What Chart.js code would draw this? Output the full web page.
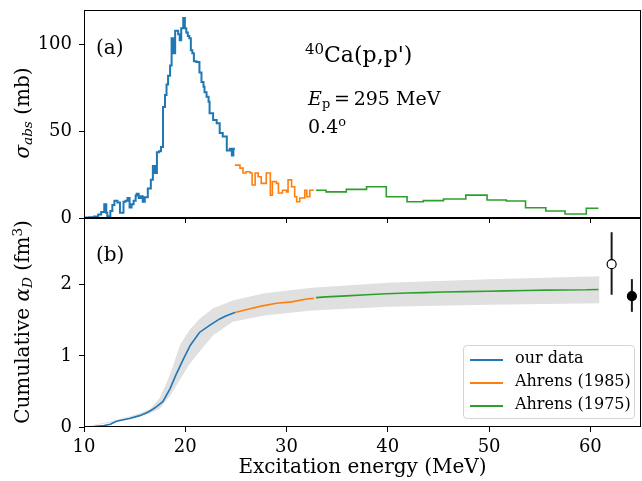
<!DOCTYPE html>
<html>
<head>
<meta charset="utf-8">
<script src="https://cdn.jsdelivr.net/npm/chart.js@4.4.0/dist/chart.umd.min.js"></script>
<style>
  body { margin: 0; background: #fff; font-family: "DejaVu Serif", serif; }
  #wrap { position: relative; width: 642px; height: 481px; overflow: hidden; }
  canvas { position: absolute; left: 0; }
  .txt { position: absolute; font-size: 18px; color: #000; white-space: nowrap; line-height: 1; }
  .txt sup { font-size: 0.68em; vertical-align: 0.55em; line-height: 0; }
  .txt sub { font-size: 0.68em; vertical-align: -0.25em; line-height: 0; }
  .rot { transform: translate(-50%, -50%) rotate(-90deg); font-size: 20px; }
  #legend { position: absolute; left: 463px; top: 345px; width: 170px; height: 72px;
            border: 1px solid #d4d4d4; border-radius: 4px; background: rgba(255,255,255,0.85);
            font-size: 16px; }
  .item { position: absolute; left: 0; height: 20px; white-space: nowrap; }
  .item i { position: absolute; left: 6px; top: 10px; width: 33px; height: 2px; }
  .item span { position: absolute; left: 51px; top: 1px; line-height: 1; }
</style>
</head>
<body>
<div id="wrap">
  <canvas id="top" width="642" height="232" style="top:0"></canvas>
  <canvas id="bottom" width="642" height="263" style="top:218px"></canvas>

  <div class="txt rot" style="left:22px;top:113px"><i>σ<sub>abs</sub></i> (mb)</div>
  <div class="txt rot" style="left:22px;top:322px">Cumulative <i>α<sub>D</sub></i> (fm<sup>3</sup>)</div>

  <div class="txt" style="left:96px;top:37px;font-size:20px">(a)</div>
  <div class="txt" style="left:96px;top:244px;font-size:20px">(b)</div>
  <div class="txt" style="left:305px;top:44px;font-size:22px"><sup>40</sup>Ca(p,p')</div>
  <div class="txt" style="left:308px;top:89px;font-size:19px"><i>E</i><sub>p</sub>&#8201;=&#8201;295 MeV</div>
  <div class="txt" style="left:308px;top:117px;font-size:19px">0.4<sup>o</sup></div>

  <div id="legend"></div>
</div>

<script>
// (a) absorption cross section, step histograms: bin edges + bin values
const ourEdges = [10.0,10.5,11.0,11.4,11.7,12.0,12.2,12.3,12.6,12.8,13.0,13.3,13.55,13.9,14.1,14.3,14.5,14.7,14.9,15.1,
  15.2,15.4,15.6,15.8,16.0,16.3,16.6,16.8,17.0,17.2,17.4,17.6,17.8,18.0,18.15,18.3,18.5,18.65,18.8,19.0,
  19.3,19.45,19.6,19.8,19.96,20.1,20.25,20.4,20.55,20.7,20.85,21.1,21.4,21.6,21.8,21.9,22.1,22.3,22.4,22.75,
  23.1,23.4,23.7,24.1,24.4,24.6,24.75,24.9];
const ourSigma = [0.3,0.5,0.8,2,3.5,8,3,1,4,7.5,10,9,3,9.4,10,11.5,6,8,10,13,
  14,11.5,12.5,9.4,12,17,22,30,26,38,38.5,41,64,71,77,82,88,103.7,95,108,
  106,102.5,109.5,115.4,109.5,107,105,103.7,96.8,95,90.5,90,84,78.5,75.7,72.6,70,67,60.5,56.5,
  54.7,49,47,39,40,36,40];

const a85Edges = [24.9,25.4,25.7,26.0,26.4,26.6,26.9,27.2,27.5,28.0,28.4,28.6,29.0,29.2,29.6,30.0,30.15,30.5,30.8,31.0,31.3,31.8,32.0,32.3,32.7];
const a85Sigma = [30.5,28.8,26,26.7,26,19,26,23.8,20,26,13.2,21,20,14.4,16,15,22,18,12.3,9.4,11.5,16,12.3,16];

const a75Edges = [32.9,33.9,35.9,37.9,39.85,41.9,43.5,45.5,47.7,49.8,51.7,53.6,55.6,57.5,59.6,60.8];
const a75Sigma = [16,15.1,16.5,18,12.3,9.4,10,11,13.2,10.4,9.8,5.9,4,2.3,5.6];

// (b) cumulative polarizability
const ourCumE = [10,11,12,12.6,13.2,14.5,15.5,16.2,16.8,17.2,17.8,18.5,19.1,19.8,20.5,21.4,22.4,23.4,24.0,24.9];
const ourCum  = [0,0.005,0.02,0.04,0.08,0.12,0.16,0.2,0.25,0.29,0.36,0.54,0.74,0.95,1.15,1.33,1.43,1.52,1.56,1.61];
const a85CumE = [24.9,26,27.5,29,30.5,32,32.7];
const a85Cum  = [1.61,1.65,1.70,1.74,1.76,1.80,1.81];
const a75CumE = [32.9,33.9,35.9,37.9,39.85,41.9,43.5,45.5,47.7,49.8,51.7,53.6,55.6,57.5,59.6,60.8];
const a75Cum  = [1.82,1.83,1.845,1.86,1.875,1.885,1.89,1.90,1.905,1.91,1.915,1.92,1.925,1.928,1.93,1.935];

const bandE  = [10,13,15,16.5,17.5,18.5,19.5,20.4,21.4,22.75,24.7,27.8,32.5,40,50,60.9];
const bandLo = [0,0.07,0.13,0.19,0.26,0.44,0.67,0.88,1.06,1.29,1.48,1.57,1.64,1.69,1.72,1.74];
const bandHi = [0,0.09,0.17,0.25,0.41,0.74,1.16,1.36,1.52,1.67,1.78,1.88,1.96,2.03,2.08,2.12];

// other results with error bars (open, filled)
const refE   = [62.1, 64.1];
const refVal = [2.29, 1.84];
const refLo  = [1.86, 1.62];
const refHi  = [2.74, 2.08];

const seriesNames = ['our data', 'Ahrens (1985)', 'Ahrens (1975)'];
const colors = ['#1f77b4', '#ff7f0e', '#2ca02c'];

const FONT = { family: '"DejaVu Serif", serif', size: 18 };
const TITLE_FONT = { family: '"DejaVu Serif", serif', size: 20 };

function steps(edges, vals) {
  return edges.map((e, i) => ({ x: e, y: vals[Math.min(i, vals.length - 1)] }));
}
function pts(xs, ys) {
  return xs.map((x, i) => ({ x: x, y: ys[i] }));
}

const frame = {
  id: 'frame',
  afterDraw(c) {
    const a = c.chartArea, ctx = c.ctx;
    ctx.save();
    ctx.strokeStyle = '#000';
    ctx.lineWidth = 1;
    ctx.strokeRect(Math.round(a.left) + 0.5, Math.round(a.top) + 0.5,
                   Math.round(a.right - a.left) - 1, Math.round(a.bottom - a.top) - 1);
    ctx.restore();
  }
};

function xScale(showLabels, h) {
  return {
    type: 'linear', min: 10, max: 65,
    afterBuildTicks: s => { s.ticks = s.ticks.filter(t => t.value % 10 === 0); },
    ticks: { stepSize: 10, display: showLabels, font: FONT, color: '#000', padding: 5, maxRotation: 0 },
    grid: { drawOnChartArea: false, tickLength: 5, color: '#000' },
    border: { display: false },
    title: { display: showLabels, text: 'Excitation energy (MeV)', font: TITLE_FONT, color: '#000', padding: { top: 0, bottom: 1 } },
    afterFit: s => { s.height = h; s.paddingLeft = 0; s.paddingRight = 0; }
  };
}
function yScale(max, step) {
  return {
    min: 0, max: max,
    afterBuildTicks: s => { s.ticks = s.ticks.filter(t => t.value % step === 0 && t.value < max); },
    ticks: { stepSize: step, font: FONT, color: '#000', padding: 7 },
    grid: { drawOnChartArea: false, tickLength: 5, color: '#000' },
    border: { display: false },
    afterFit: s => { s.width = 84; s.paddingTop = 0; s.paddingBottom = 0; }
  };
}

const lineBase = { pointRadius: 0, fill: false, tension: 0 };

new Chart(document.getElementById('top'), {
  type: 'line',
  data: {
    datasets: [
      { ...lineBase, label: seriesNames[0], data: steps(ourEdges, ourSigma), stepped: 'before', borderColor: colors[0], borderWidth: 2 },
      { ...lineBase, label: seriesNames[1], data: steps(a85Edges, a85Sigma), stepped: 'before', borderColor: colors[1], borderWidth: 1.6 },
      { ...lineBase, label: seriesNames[2], data: steps(a75Edges, a75Sigma), stepped: 'before', borderColor: colors[2], borderWidth: 1.6 }
    ]
  },
  options: {
    responsive: false, animation: false,
    layout: { autoPadding: false, padding: { top: 10, right: 1, left: 0, bottom: 0 } },
    plugins: { legend: { display: false }, tooltip: { enabled: false } },
    scales: { x: xScale(false, 14), y: yScale(120, 50) }
  },
  plugins: [frame]
});

const datasets = [
  { ...lineBase, label: 'band lo', data: pts(bandE, bandLo), borderWidth: 0, borderColor: 'rgba(0,0,0,0)', order: 10 },
  { ...lineBase, label: 'band hi', data: pts(bandE, bandHi), borderWidth: 0, borderColor: 'rgba(0,0,0,0)',
    fill: '-1', backgroundColor: '#e0e0e0', order: 10 },
  { ...lineBase, label: seriesNames[0], data: pts(ourCumE, ourCum), borderColor: colors[0], borderWidth: 1.6, order: 2 },
  { ...lineBase, label: seriesNames[1], data: pts(a85CumE, a85Cum), borderColor: colors[1], borderWidth: 1.6, order: 2 },
  { ...lineBase, label: seriesNames[2], data: pts(a75CumE, a75Cum), borderColor: colors[2], borderWidth: 1.6, order: 2 }
];
refE.forEach((e, i) => {
  datasets.push({ ...lineBase, label: 'err' + i, data: [{ x: e, y: refLo[i] }, { x: e, y: refHi[i] }],
    borderColor: '#1a1a1a', borderWidth: 2, order: 1 });
  datasets.push({ label: 'ref' + i, data: [{ x: e, y: refVal[i] }], showLine: false,
    pointRadius: 4.5, pointBorderWidth: 1.2, pointBorderColor: '#000',
    pointBackgroundColor: i === 0 ? '#fff' : '#000', order: 0 });
});

new Chart(document.getElementById('bottom'), {
  type: 'line',
  data: { datasets: datasets },
  options: {
    responsive: false, animation: false,
    layout: { autoPadding: false, padding: { top: 0, right: 1, left: 0, bottom: 0 } },
    plugins: { legend: { display: false }, tooltip: { enabled: false } },
    scales: { x: xScale(true, 54), y: yScale(2.94, 1) }
  },
  plugins: [frame]
});

// legend box
const leg = document.getElementById('legend');
seriesNames.forEach((n, i) => {
  const d = document.createElement('div');
  d.className = 'item';
  d.style.top = (3 + i * 23) + 'px';
  d.innerHTML = '<i style="background:' + colors[i] + '"></i><span>' + n + '</span>';
  leg.appendChild(d);
});
</script>
</body>
</html>
